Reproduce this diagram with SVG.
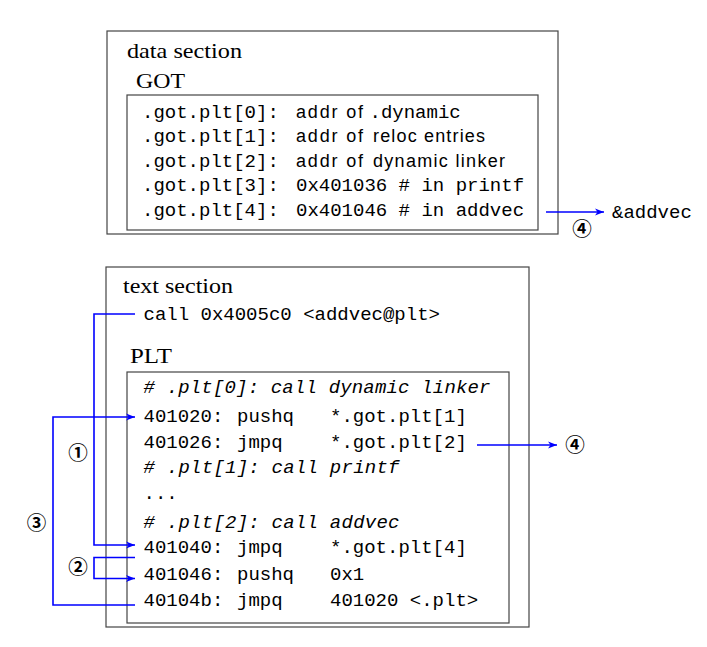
<svg xmlns="http://www.w3.org/2000/svg" width="707" height="647" viewBox="0 0 707 647">
<style>
.box{fill:none;stroke:#444;stroke-width:1.2}
.rm{font-family:"Liberation Serif","Times New Roman",serif;font-size:21.5px;fill:#000}
.tt{font-family:"Liberation Mono","Courier New",monospace;font-size:19px;fill:#000}
.ti{font-family:"Liberation Mono","Courier New",monospace;font-size:19px;font-style:italic;fill:#000}
.sf{font-family:"Liberation Sans",Arial,sans-serif;font-size:18px;fill:#000}
.num{font-family:"Noto Sans CJK JP","DejaVu Sans",sans-serif;font-size:19.5px;fill:#000;text-anchor:middle;font-weight:bold}
.wire{fill:none;stroke:#0000ff;stroke-width:1.6}
</style>
<defs>
<marker id="ah" markerUnits="userSpaceOnUse" markerWidth="10" markerHeight="8" refX="9" refY="4" orient="auto">
<path d="M0,0.5 L9,4 L0,7.5 L2.5,4 z" fill="#0000ff"/>
</marker>
</defs>
<rect width="707" height="647" fill="#fff"/>

<g id="data-section">
<rect class="box" x="107" y="31" width="451" height="203"/>
<text class="rm" x="127" y="58" textLength="115" lengthAdjust="spacingAndGlyphs">data section</text>
</g>

<g id="got">
<text class="rm" x="136" y="88" textLength="49" lengthAdjust="spacingAndGlyphs">GOT</text>
<rect class="box" x="127" y="95" width="411" height="135"/>
<text class="tt" x="142" y="117.5">.got.plt[0]:</text>
<text class="sf" x="296" y="117.5" textLength="67" lengthAdjust="spacing">addr of</text>
<text class="tt" x="369.5" y="117.5">.dynamic</text>
<text class="tt" x="142" y="142.1">.got.plt[1]:</text>
<text class="sf" x="296" y="142.1" textLength="67" lengthAdjust="spacing">addr of</text>
<text class="sf" x="373" y="142.1" textLength="112" lengthAdjust="spacing">reloc entries</text>
<text class="tt" x="142" y="166.7">.got.plt[2]:</text>
<text class="sf" x="296" y="166.7" textLength="67" lengthAdjust="spacing">addr of</text>
<text class="sf" x="373" y="166.7" textLength="132" lengthAdjust="spacing">dynamic linker</text>
<text class="tt" x="142" y="191.3">.got.plt[3]:</text>
<text class="tt" x="296" y="191.3">0x401036 # in printf</text>
<text class="tt" x="142" y="215.9">.got.plt[4]:</text>
<text class="tt" x="296" y="215.9">0x401046 # in addvec</text>
</g>

<g id="addvec-target">
<text class="tt" x="612" y="218">&amp;addvec</text>
</g>

<g id="text-section">
<rect class="box" x="106" y="267" width="423" height="360"/>
<text class="rm" x="123" y="293" textLength="110" lengthAdjust="spacingAndGlyphs">text section</text>
<text class="tt" x="143.5" y="320">call 0x4005c0 &lt;addvec@plt&gt;</text>
</g>

<g id="plt">
<text class="rm" x="130" y="363" textLength="42" lengthAdjust="spacingAndGlyphs">PLT</text>
<rect class="box" x="127" y="372" width="382" height="251"/>
<text class="ti" x="143.5" y="393" textLength="347" lengthAdjust="spacing"># .plt[0]: call dynamic linker</text>
<text class="tt" x="143.5" y="421.5">401020:</text>
<text class="tt" x="237" y="421.5">pushq</text>
<text class="tt" x="330" y="421.5">*.got.plt[1]</text>
<text class="tt" x="143.5" y="448">401026:</text>
<text class="tt" x="237" y="448">jmpq</text>
<text class="tt" x="330" y="448">*.got.plt[2]</text>
<text class="ti" x="143.5" y="473" textLength="256" lengthAdjust="spacing"># .plt[1]: call printf</text>
<text class="tt" x="143.5" y="498.5">...</text>
<text class="ti" x="143.5" y="527.5" textLength="256" lengthAdjust="spacing"># .plt[2]: call addvec</text>
<text class="tt" x="143.5" y="552.5">401040:</text>
<text class="tt" x="237" y="552.5">jmpq</text>
<text class="tt" x="330" y="552.5">*.got.plt[4]</text>
<text class="tt" x="143.5" y="579.5">401046:</text>
<text class="tt" x="237" y="579.5">pushq</text>
<text class="tt" x="330" y="579.5">0x1</text>
<text class="tt" x="143.5" y="606">40104b:</text>
<text class="tt" x="237" y="606">jmpq</text>
<text class="tt" x="330" y="606">401020 &lt;.plt&gt;</text>
</g>

<g id="connectors">
<path class="wire" d="M546,212 H604" marker-end="url(#ah)"/>
<path class="wire" d="M477,445 H557" marker-end="url(#ah)"/>
<path class="wire" d="M135,314 H94 V545 H135" marker-end="url(#ah)"/>
<path class="wire" d="M135,557.5 H94 V578.5 H135" marker-end="url(#ah)"/>
<path class="wire" d="M135,605 H53 V417 H135" marker-end="url(#ah)"/>
<text class="num" x="582" y="236">④</text>
<text class="num" x="575" y="452">④</text>
<text class="num" x="78" y="460">①</text>
<text class="num" x="78" y="574">②</text>
<text class="num" x="36.5" y="529.5">③</text>
</g>
</svg>
